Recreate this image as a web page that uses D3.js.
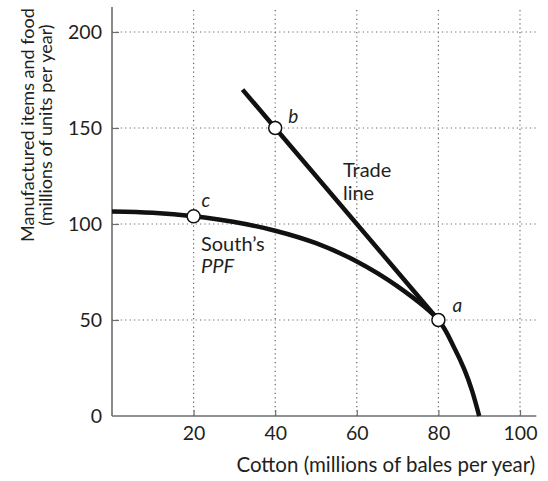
<!DOCTYPE html>
<html>
<head>
<meta charset="utf-8">
<script src="https://cdn.jsdelivr.net/npm/d3@7"></script>
<style>
  html, body { margin: 0; padding: 0; background: #fff; }
  svg { display: block; font-family: Lato, "Open Sans", sans-serif; }
</style>
</head>
<body>
<svg id="chart" width="548" height="481"></svg>
<script>
// ---- data ----
const xTicks = [20, 40, 60, 80, 100];
const yTicks = [0, 50, 100, 150, 200];
// South's production possibilities frontier (cotton, manufactured items)
const ppfCotton = [0, 10, 20, 30, 40, 50, 60, 70, 80, 84, 86.4, 88.2, 90];
const ppfGoods  = [106.5, 105.8, 104, 101, 96.5, 90, 80.5, 67.5, 50, 35, 24, 13.5, 0];
// Trade line
const tradeCotton = [32, 40, 80];
const tradeGoods  = [170, 150, 50];
// Marked points
const pointNames  = ["a", "b", "c"];
const pointCotton = [80, 40, 20];
const pointGoods  = [50, 150, 104];

// ---- chart ----
const svg = d3.select("#chart");
const x = d3.scaleLinear().domain([0, 100]).range([112, 520]);
const y = d3.scaleLinear().domain([0, 200]).range([416, 32]);
const xMax = 104, yMax = 213;

const textColor = "#231f20";
const axisColor = "#6d6e71";

// grid lines (dotted)
const grid = svg.append("g");
grid.selectAll("line.h").data(yTicks.filter(d => d > 0)).join("line")
  .attr("x1", x(0)).attr("x2", x(xMax))
  .attr("y1", d => y(d)).attr("y2", d => y(d))
  .attr("stroke", "#666").attr("stroke-width", 1.2)
  .attr("stroke-dasharray", "1.2,3.2");
grid.selectAll("line.v").data(xTicks).join("line")
  .attr("x1", d => x(d)).attr("x2", d => x(d))
  .attr("y1", y(0)).attr("y2", y(yMax))
  .attr("stroke", "#666").attr("stroke-width", 1.2)
  .attr("stroke-dasharray", "1.2,3.2");

// axes
const xAxis = svg.append("g").attr("transform", `translate(0,${y(0)})`)
  .call(d3.axisBottom(x).tickValues(xTicks).tickSizeInner(-6).tickSizeOuter(0).tickPadding(10));
const yAxis = svg.append("g").attr("transform", `translate(${x(0)},0)`)
  .call(d3.axisLeft(y).tickValues(yTicks).tickSizeInner(-7).tickSizeOuter(0).tickPadding(10));
[xAxis, yAxis].forEach(g => {
  g.select(".domain").remove();
  g.selectAll(".tick line").attr("stroke", axisColor).attr("stroke-width", 1.2);
  g.selectAll(".tick text").attr("fill", textColor).style("font-size", "19.5px")
    .style("font-family", "Lato, 'Open Sans', sans-serif");
});
yAxis.selectAll(".tick").filter(d => d === 0).select("line").remove();
// axis lines
svg.append("line").attr("x1", x(0)).attr("x2", x(xMax)).attr("y1", y(0)).attr("y2", y(0))
  .attr("stroke", axisColor).attr("stroke-width", 1.6);
svg.append("line").attr("x1", x(0)).attr("x2", x(0)).attr("y1", y(0)).attr("y2", y(yMax))
  .attr("stroke", axisColor).attr("stroke-width", 1.6);

// axis titles
svg.append("text").attr("x", x(xMax) - 1).attr("y", 472).attr("text-anchor", "end")
  .attr("fill", textColor).style("font-size", "20.5px")
  .text("Cotton (millions of bales per year)");
const yt = svg.append("g").attr("transform", `translate(0,${y(151.5)}) rotate(-90)`);
yt.append("text").attr("x", 0).attr("y", 34).attr("text-anchor", "middle")
  .attr("fill", textColor).style("font-size", "18px").text("Manufactured items and food");
yt.append("text").attr("x", 0).attr("y", 52).attr("text-anchor", "middle")
  .attr("fill", textColor).style("font-size", "18px").text("(millions of units per year)");

// curves
const ppf = ppfCotton.map((c, i) => [c, ppfGoods[i]]);
const trade = tradeCotton.map((c, i) => [c, tradeGoods[i]]);
svg.append("path").datum(ppf)
  .attr("d", d3.line().x(d => x(d[0])).y(d => y(d[1])).curve(d3.curveCatmullRom.alpha(0.5)))
  .attr("fill", "none").attr("stroke", "#111").attr("stroke-width", 4.5);
svg.append("path").datum(trade)
  .attr("d", d3.line().x(d => x(d[0])).y(d => y(d[1])))
  .attr("fill", "none").attr("stroke", "#111").attr("stroke-width", 4.5);

// points
const pts = pointNames.map((n, i) => ({ n, c: pointCotton[i], g: pointGoods[i] }));
svg.selectAll("circle.pt").data(pts).join("circle")
  .attr("cx", d => x(d.c)).attr("cy", d => y(d.g)).attr("r", 6.5)
  .attr("fill", "#fff").attr("stroke", "#111").attr("stroke-width", 1.5);
const labelOffset = { a: [14, -8], b: [13, -5], c: [8, -9] };
svg.selectAll("text.pt").data(pts).join("text")
  .attr("x", d => x(d.c) + labelOffset[d.n][0])
  .attr("y", d => y(d.g) + labelOffset[d.n][1])
  .attr("fill", textColor).style("font-size", "19px").style("font-style", "italic")
  .text(d => d.n);

// annotations
const ann = svg.append("g").attr("fill", textColor).style("font-size", "20px");
ann.append("text").attr("x", x(56.6)).attr("y", 177).text("Trade");
ann.append("text").attr("x", x(56.6)).attr("y", 200).text("line");
ann.append("text").attr("x", x(21.8)).attr("y", 251).text("South\u2019s");
ann.append("text").attr("x", x(21.8)).attr("y", 273).style("font-style", "italic").text("PPF");
</script>
</body>
</html>
